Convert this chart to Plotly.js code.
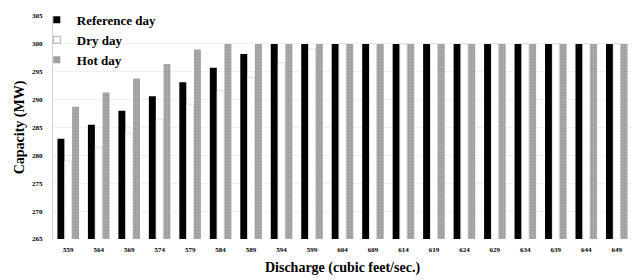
<!DOCTYPE html>
<html><head><meta charset="utf-8">
<script src="https://cdn.plot.ly/plotly-3.0.1.min.js"></script>
<style>body{margin:0;background:#fff}#c{width:638px;height:280px}</style>
</head><body><div id="c"></div>
<script>
const categories = ["559","564","569","574","579","584","589","594","599","604","609","614","619","624","629","634","639","644","649"];
const referenceDay = [283.0,285.5,288.0,290.6,293.1,295.7,298.2,300,300,300,300,300,300,300,300,300,300,300,300];
const dryDay = [279.0,281.5,284.0,286.5,289.2,291.6,294.0,296.6,299.1,300,300,300,300,300,300,300,300,300,300];
const hotDay = [288.7,291.3,293.8,296.4,299.0,300,300,300,300,300,300,300,300,300,300,300,300,300,300];
const yTicks = [265,270,275,280,285,290,295,300,305];
const seriesNames = ["Reference day","Dry day","Hot day"];

const serif = "Liberation Serif";
const data = [
  {type:"bar", name:seriesNames[0], x:categories, y:referenceDay, showlegend:false,
   marker:{color:"#000000", line:{width:0}}},
  {type:"bar", name:seriesNames[1], x:categories, y:dryDay, showlegend:false,
   marker:{color:"#ffffff", line:{color:"#cfcfcf", width:0.6}}},
  {type:"bar", name:seriesNames[2], x:categories, y:hotDay, showlegend:false,
   marker:{color:"#a8a8a8", line:{width:0},
     pattern:{shape:".", fgcolor:"#989898", bgcolor:"#ababab", size:3, solidity:0.35}}},
  {type:"scatter", mode:"markers", name:seriesNames[0], x:[null], y:[null],
   marker:{symbol:"square", size:7, color:"#000"}},
  {type:"scatter", mode:"markers", name:seriesNames[1], x:[null], y:[null],
   marker:{symbol:"square", size:7, color:"#fff", line:{color:"#999", width:0.8}}},
  {type:"scatter", mode:"markers", name:seriesNames[2], x:[null], y:[null],
   marker:{symbol:"square", size:7, color:"#a0a0a0"}}
];
const layout = {
  width:638, height:280,
  margin:{l:53, r:6, t:15, b:41},
  paper_bgcolor:"#fff", plot_bgcolor:"#fff",
  barmode:"group", bargap:0.28, bargroupgap:0.05,
  showlegend:true,
  legend:{x:-0.028, y:1.045, xanchor:"left", yanchor:"top", bgcolor:"rgba(0,0,0,0)",
    font:{family:serif, size:13, color:"#000", weight:"bold"}, tracegroupgap:0, itemwidth:30,
    itemclick:false},
  font:{family:serif, color:"#000"},
  xaxis:{type:"category", showline:false, ticks:"", ticklabelstandoff:5,
    tickfont:{family:serif, size:7, color:"#000", weight:"bold"},
    title:{text:"Discharge (cubic feet/sec.)", font:{family:serif, size:14, color:"#000", weight:"bold"}, standoff:9}},
  yaxis:{range:[265,305], tickvals:yTicks, ticktext:yTicks.map(String), showline:true, linecolor:"#d0d0d0", linewidth:1,
    ticks:"", showgrid:true, gridcolor:"#f0f0f0", zeroline:false, ticklabelstandoff:8,
    tickfont:{family:serif, size:7, color:"#000", weight:"bold"},
    title:{text:"Capacity (MW)", font:{family:serif, size:14, color:"#000", weight:"bold"}, standoff:4}}
};
Plotly.newPlot("c", data, layout, {displayModeBar:false, staticPlot:true});
</script></body></html>
